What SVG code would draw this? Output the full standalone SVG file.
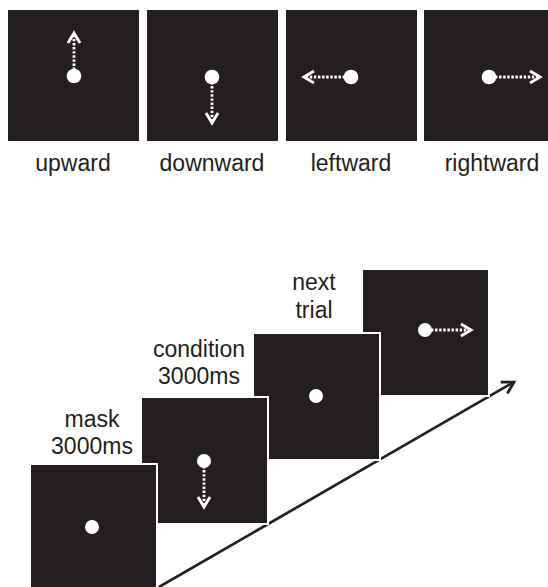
<svg xmlns="http://www.w3.org/2000/svg" width="548" height="587" viewBox="0 0 548 587">
<defs>
<style>
.panel{fill:#231f20;}
.bpanel{fill:#231f20;stroke:#ffffff;stroke-width:2;}
.dot{fill:#ffffff;}
.dash{stroke:#ffffff;stroke-width:2.8;stroke-dasharray:2.4 1.7;fill:none;}
.lbl{font-family:"Liberation Sans",Arial,sans-serif;font-size:23px;fill:#231f20;text-anchor:middle;}
</style>
<marker id="wh" viewBox="-14 -9 18 18" markerWidth="18" markerHeight="18" refX="0" refY="0" orient="auto" markerUnits="userSpaceOnUse">
<path d="M-10,-6 L0,0 L-10,6" fill="none" stroke="#ffffff" stroke-width="2.9"/>
</marker>
<marker id="bk" viewBox="-16 -10 20 20" markerWidth="20" markerHeight="20" refX="0" refY="0" orient="auto" markerUnits="userSpaceOnUse">
<path d="M-11.5,-6.6 L0,0 L-11.5,6.6" fill="none" stroke="#231f20" stroke-width="2.7"/>
</marker>
</defs>
<rect width="548" height="587" fill="#ffffff"/>

<g id="upward">
<rect class="panel" x="8" y="10" width="131" height="131"/>
<line class="dash" x1="74" y1="70" x2="74" y2="33" marker-end="url(#wh)"/>
<circle class="dot" cx="74" cy="76" r="7.3"/>
<text class="lbl" x="73" y="171">upward</text>
</g>
<g id="downward">
<rect class="panel" x="147" y="10" width="131" height="131"/>
<line class="dash" x1="212" y1="82" x2="212" y2="123" marker-end="url(#wh)"/>
<circle class="dot" cx="212" cy="77" r="7.3"/>
<text class="lbl" x="212" y="171">downward</text>
</g>
<g id="leftward">
<rect class="panel" x="286" y="10" width="131" height="131"/>
<line class="dash" x1="345" y1="77" x2="304" y2="77" marker-end="url(#wh)"/>
<circle class="dot" cx="351" cy="77" r="7.3"/>
<text class="lbl" x="351" y="171">leftward</text>
</g>
<g id="rightward">
<rect class="panel" x="424" y="10" width="131" height="131"/>
<line class="dash" x1="495" y1="77" x2="540" y2="77" marker-end="url(#wh)"/>
<circle class="dot" cx="489" cy="77" r="7.3"/>
<text class="lbl" x="492" y="171">rightward</text>
</g>

<g id="connectors">
<line x1="159" y1="587" x2="514" y2="382" stroke="#231f20" stroke-width="2.7" marker-end="url(#bk)"/>
</g>

<g id="next-trial">
<rect class="bpanel" x="362" y="269" width="127" height="127"/>
<line class="dash" x1="431" y1="330" x2="471" y2="330" marker-end="url(#wh)"/>
<circle class="dot" cx="425" cy="330" r="7"/>
</g>
<g id="blank">
<rect class="bpanel" x="253" y="333" width="127" height="127"/>
<circle class="dot" cx="316" cy="396" r="7"/>
<text class="lbl" x="314" y="290">next</text>
<text class="lbl" x="314" y="318">trial</text>
</g>
<g id="condition">
<rect class="bpanel" x="141" y="397" width="127" height="127"/>
<line class="dash" x1="204" y1="466" x2="204" y2="507" marker-end="url(#wh)"/>
<circle class="dot" cx="204" cy="461" r="7"/>
<text class="lbl" x="199" y="357">condition</text>
<text class="lbl" x="199" y="384">3000ms</text>
</g>
<g id="mask">
<rect class="bpanel" x="30" y="464" width="127" height="127"/>
<circle class="dot" cx="92" cy="527" r="7"/>
<text class="lbl" x="92" y="427">mask</text>
<text class="lbl" x="92" y="454">3000ms</text>
</g>
</svg>
